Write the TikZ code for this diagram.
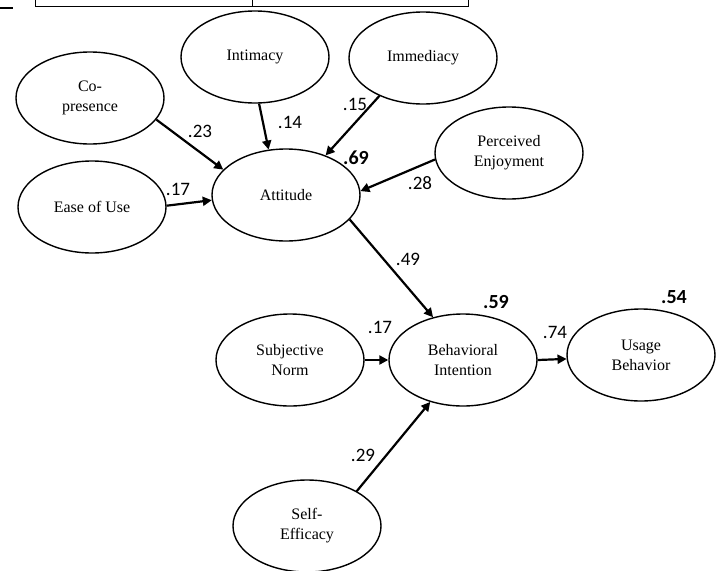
\documentclass[tikz,border=0pt]{standalone}
\usepackage{fontspec}
\setmainfont{Liberation Serif}
\newfontfamily\numfont{Carlito}
\usetikzlibrary{arrows.meta, shapes.geometric}

\begin{document}
\begin{tikzpicture}[x=1pt, y=-1pt,
    construct/.style={draw, ellipse, line width=1.4pt, minimum width=148pt, minimum height=92pt, inner sep=0pt, align=center, font=\fontsize{16}{20}\selectfont},
    link/.style={line width=2.2pt, -{Triangle[length=9pt, width=9pt]}},
    coef/.style={font=\numfont\fontsize{19}{20}\selectfont},
    rsq/.style={font=\numfont\bfseries\fontsize{20}{20}\selectfont}]
    \useasboundingbox (0,0) rectangle (722,570);
    % fragment of the table above
    \draw[line width=1pt] (35,0) -- (35,6) -- (468,6) -- (468,0);
    \draw[line width=1pt] (252,0) -- (252,6);
    \draw[line width=2pt] (0,8) -- (13,8);
    % constructs
    \node[construct] (copres) at (90,98) {Co-\\presence};
    \node[construct] (intim) at (255,57) {Intimacy};
    \node[construct] (immed) at (423,58) {Immediacy};
    \node[construct] (enjoy) at (509,153) {Perceived\\Enjoyment};
    \node[construct] (ease) at (92,207) {Ease of Use};
    \node[construct] (att) at (286,195) {Attitude};
    \node[construct] (norm) at (290,360) {Subjective\\Norm};
    \node[construct] (intent) at (463,360) {Behavioral\\Intention};
    \node[construct] (usage) at (641,355) {Usage\\Behavior};
    \node[construct] (effic) at (307,526) {Self-\\Efficacy};
    % paths
    \draw[link] (copres.-18) -- (att.158);
    \draw[link] (intim.-85) -- (att.111);
    \draw[link] (immed.221) -- (att.45);
    \draw[link] (enjoy.185) -- (att.3);
    \draw[link] (ease.1) -- (att.184);
    \draw[link] (att.-21) -- (intent.125);
    \draw[link] (norm.0) -- (intent.180);
    \draw[link] (intent.0) -- (usage.183);
    \draw[link] (effic.35) -- (intent.232);
    % path coefficients
    \node[coef] (c23) at (200,131) {.23};
    \node[coef] (c14) at (290,122) {.14};
    \node[coef] (c15) at (355,104) {.15};
    \node[coef] (c28) at (420,183) {.28};
    \node[coef] (c17a) at (178,189) {.17};
    \node[coef] (c49) at (408,259) {.49};
    \node[coef] (c17b) at (380,327) {.17};
    \node[coef] (c74) at (555,332) {.74};
    \node[coef] (c29) at (363,455) {.29};
    % explained variance
    \node[rsq] (r69) at (356,158) {.69};
    \node[rsq] (r59) at (496,302) {.59};
    \node[rsq] (r54) at (674,297) {.54};
\end{tikzpicture}
\end{document}
